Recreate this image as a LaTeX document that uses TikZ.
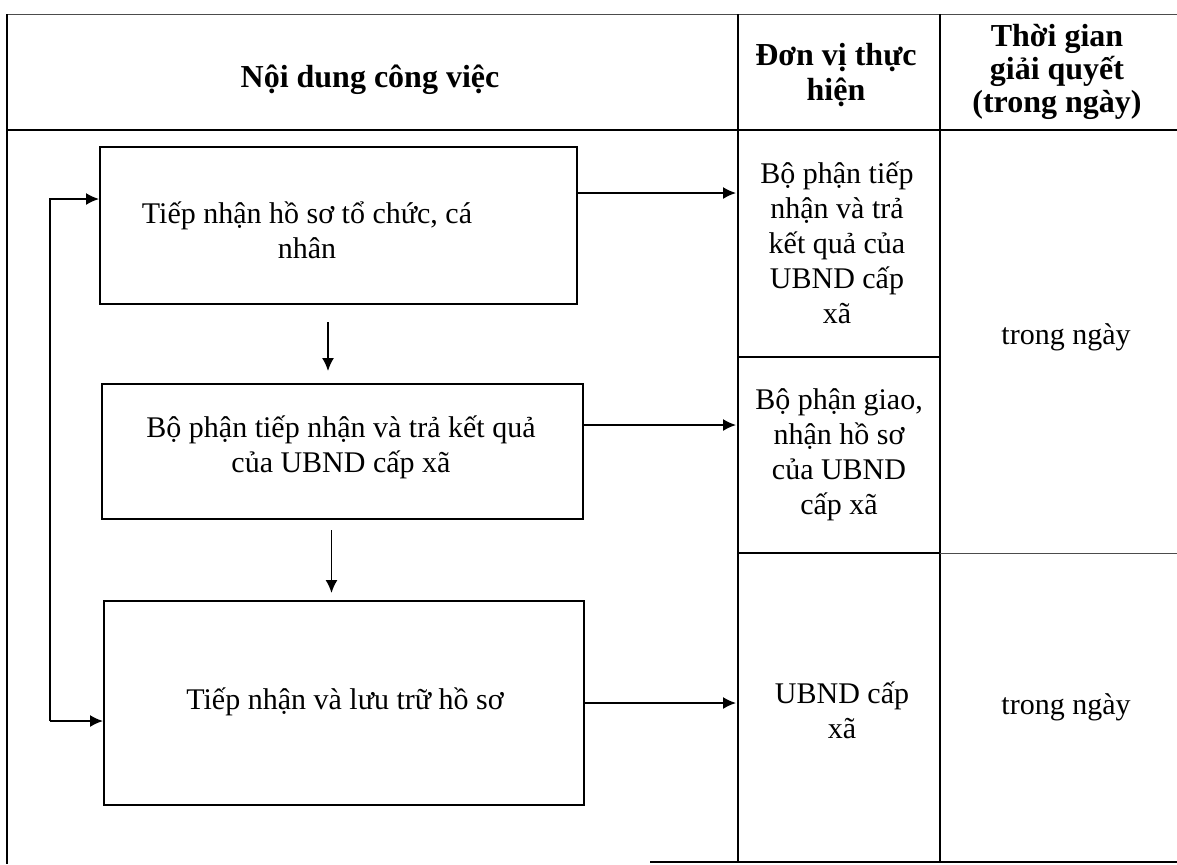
\documentclass[tikz,border=0pt]{standalone}
\usepackage{fontspec}
\setmainfont{Liberation Serif}
\usetikzlibrary{arrows.meta}
\tikzset{
  px/.style={x=0.5pt,y=-0.5pt},
  grid/.style={line width=0.7pt},
  faint/.style={line width=0.5pt,black!70},
  stepbox/.style={draw,line width=1pt,inner sep=0pt},
  body/.style={font=\fontsize{15pt}{17.5pt}\selectfont,align=center,inner sep=0pt},
  head/.style={font=\fontsize{16pt}{15.5pt}\selectfont\bfseries,align=center,inner sep=0pt},
  arr/.style={line width=0.8pt,-{Latex[length=6.5pt,width=6pt]}},
}
\begin{document}
\begin{tikzpicture}[px]
\useasboundingbox (0,0) rectangle (1177,864);
% table grid
\draw[faint] (7,14) -- (1177,14);
\draw[grid] (7,130) -- (1177,130);
\draw[grid] (7,14) -- (7,864);
\draw[grid] (738,14) -- (738,862);
\draw[grid] (940,14) -- (940,862);
\draw[grid] (738,357) -- (940,357);
\draw[grid] (738,553) -- (940,553);
\draw[faint] (940,553) -- (1177,553);
\draw[grid] (650,862) -- (1177,862);
\coordinate (c2) at (736,0);
% headers
\node[head] (h1) at (370,80) {Nội dung công việc};
\node[head] (h2) at (836,75) {Đơn vị thực\\[2pt]hiện};
\node[head] (h3) at (1057,72) {Thời gian\\[1pt]giải quyết\\[1pt](trong ngày)};
% process boxes
\node[stepbox,minimum width=238.5pt,minimum height=78.5pt] (b1) at (338.5,225.5) {};
\node[stepbox,minimum width=240.5pt,minimum height=67.5pt] (b2) at (342.5,451.5) {};
\node[stepbox,minimum width=240pt,minimum height=102pt] (b3) at (344,703) {};
\node[body] (t1) at (307,230) {Tiếp nhận hồ sơ tổ chức, cá\\nhân};
\node[body] (t2) at (341,447) {Bộ phận tiếp nhận và trả kết quả\\của UBND cấp xã};
\node[body] (t3) at (345,702) {Tiếp nhận và lưu trữ hồ sơ};
% unit column
\node[body] (u1) at (837,243) {Bộ phận tiếp\\nhận và trả\\kết quả của\\UBND cấp\\xã};
\node[body] (u2) at (839,455) {Bộ phận giao,\\nhận hồ sơ\\của UBND\\cấp xã};
\node[body] (u3) at (842,710) {UBND cấp\\xã};
% time column
\node[body] (v1) at (1066,337) {trong ngày};
\node[body] (v2) at (1066,707) {trong ngày};
% down arrows
\draw[arr,shorten <=8.5pt,shorten >=6pt] ([xshift=-5.25pt]b1.south) -- ([xshift=-5.25pt]b1.south |- b2.north);
\draw[arr,shorten <=5pt,shorten >=3.5pt] ([xshift=-5.5pt]b2.south) -- ([xshift=-5.5pt]b2.south |- b3.north);
% right arrows
\coordinate (a1) at ([yshift=16.25pt]b1.east);
\coordinate (a2) at ([yshift=13.25pt]b2.east);
\coordinate (a3) at (b3.east);
\draw[arr] (a1) -- (a1 -| c2);
\draw[arr] (a2) -- (a2 -| c2);
\draw[arr] (a3) -- (a3 -| c2);
% feedback loop
\coordinate (fa) at (50,199);
\coordinate (fb) at (50,721);
\draw[arr] (fb) -- (fa) -- (fa -| b1.west);
\draw[arr] (fb) -- (fb -| b3.west);
\end{tikzpicture}
\end{document}
